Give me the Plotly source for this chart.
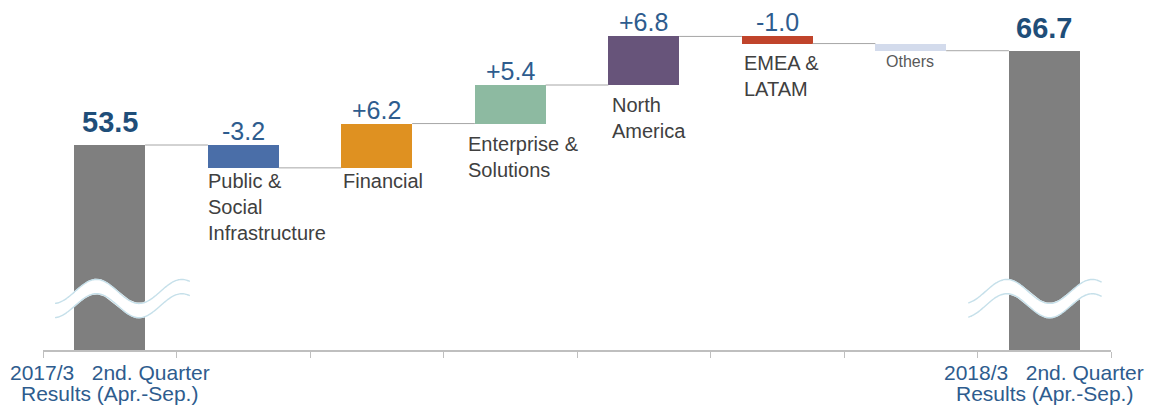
import numpy as np
import plotly.graph_objects as go

# ---- data -------------------------------------------------------------
segments = [
    "2017/3 2nd. Quarter Results (Apr.-Sep.)",
    "Public &<br>Social<br>Infrastructure",
    "Financial",
    "Enterprise &<br>Solutions",
    "North<br>America",
    "EMEA &<br>LATAM",
    "Others",
    "2018/3 2nd. Quarter Results (Apr.-Sep.)",
]
kinds = ["total", "delta", "delta", "delta", "delta", "delta", "delta", "total"]
values = [53.5, -3.2, 6.2, 5.4, 6.8, -1.0, -1.0, 66.7]
value_labels = ["53.5", "-3.2", "+6.2", "+5.4", "+6.8", "-1.0", "", "66.7"]
period_line1 = ["2017/3\u00a0\u00a0\u00a02nd. Quarter", "2018/3\u00a0\u00a0\u00a02nd. Quarter"]
period_line2 = ["Results (Apr.-Sep.)", "Results (Apr.-Sep.)"]

# ---- styles -----------------------------------------------------------
bar_colors = ["#7F7F7F", "#4A6EA8", "#DF9121", "#8DBAA1",
              "#67547A", "#C0442B", "#D3DBEC", "#7F7F7F"]
label_dx = [0, -2, 0, -9, 2, 0, 9, 0]
label_dy = [0, 0, 0, -7, -7, -6, 0, 0]
FONT = "Liberation Sans, Arial, sans-serif"
BLUE_TXT = "#2E5C8E"
BAR_W = 0.53
Y_MIN, Y_MAX = 24.8, 73.8

# ---- waterfall geometry ----------------------------------------------
xs = list(range(len(values)))
bases, heights, tops, bottoms = [], [], [], []
running = 0.0
for k, v in zip(kinds, values):
    if k == "total":
        base, h = 0.0, v
        running = v
    else:
        base, h = running, v
        running += v
    bases.append(base)
    heights.append(h)
    tops.append(max(base, base + h))
    bottoms.append(min(base, base + h))

levels = []
running = 0.0
for k, v in zip(kinds, values):
    running = v if k == "total" else running + v
    levels.append(running)

fig = go.Figure()

fig.add_trace(go.Bar(
    x=xs, y=heights, base=bases, width=BAR_W,
    marker=dict(color=bar_colors, line=dict(width=0)),
    hoverinfo="skip", showlegend=False,
))

# connector lines between neighbouring bars
cx, cy = [], []
for i in range(len(values) - 1):
    cx += [i + BAR_W / 2, i + 1 - BAR_W / 2, None]
    cy += [levels[i], levels[i], None]
fig.add_trace(go.Scatter(
    x=cx, y=cy, mode="lines", line=dict(color="#A6A6A6", width=1),
    hoverinfo="skip", showlegend=False,
))


# axis-break wave drawn across the two total bars
def add_break(center, x0, x1, peak, level=33.0, amp=1.68, period=0.64, gap=2.0):
    t = np.linspace(x0, x1, 120)
    upper = level + amp * np.cos(2 * np.pi * (t - peak) / period)
    lower = upper - gap
    px = center + t
    fig.add_trace(go.Scatter(
        x=np.concatenate([px, px[::-1]]),
        y=np.concatenate([upper + 0.1, (lower - 0.1)[::-1]]),
        fill="toself", fillcolor="white", mode="lines",
        line=dict(width=0, color="white"),
        hoverinfo="skip", showlegend=False,
    ))
    for edge in (upper, lower):
        fig.add_trace(go.Scatter(
            x=px, y=edge, mode="lines",
            line=dict(color="#C6E0EA", width=1.4, shape="spline"),
            hoverinfo="skip", showlegend=False,
        ))


add_break(0, -0.41, 0.60, -0.10)
add_break(7, -0.57, 0.43, -0.28)

annotations = []
for i, k in enumerate(kinds):
    if k == "total":
        annotations.append(dict(
            x=i, y=tops[i], xref="x", yref="y", text=f"<b>{value_labels[i]}</b>",
            showarrow=False, yanchor="bottom", yshift=5,
            font=dict(family=FONT, size=29, color="#1F4E79"),
        ))
    else:
        if value_labels[i]:
            annotations.append(dict(
                x=i, y=tops[i], xref="x", yref="y", text=value_labels[i],
                showarrow=False, yanchor="bottom", yshift=-2,
                font=dict(family=FONT, size=25, color=BLUE_TXT),
            ))
        small = segments[i] == "Others"
        annotations.append(dict(
            x=i - BAR_W / 2, y=bottoms[i], xref="x", yref="y",
            text=segments[i], showarrow=False, align="left",
            xanchor="left", yanchor="top",
            xshift=label_dx[i], yshift=label_dy[i],
            font=dict(family=FONT, size=16 if small else 20,
                      color="#595959" if small else "#404040"),
        ))

for j, i in enumerate([0, len(values) - 1]):
    annotations.append(dict(
        x=i, y=0, xref="x", yref="paper", text=period_line1[j],
        showarrow=False, yanchor="top", yshift=-9,
        font=dict(family=FONT, size=21, color=BLUE_TXT),
    ))
    annotations.append(dict(
        x=i, y=0, xref="x", yref="paper", text=period_line2[j],
        showarrow=False, yanchor="top", yshift=-30,
        font=dict(family=FONT, size=21, color=BLUE_TXT),
    ))

fig.update_layout(
    width=1155, height=409,
    margin=dict(l=43, r=44, t=0, b=59),
    paper_bgcolor="white", plot_bgcolor="white",
    bargap=0, showlegend=False,
    annotations=annotations,
    xaxis=dict(
        range=[-0.5, len(values) - 0.5],
        tickmode="array",
        tickvals=[k - 0.5 for k in range(len(values) + 1)],
        ticktext=[""] * (len(values) + 1),
        ticks="outside", ticklen=6, tickcolor="#BFBFBF", tickwidth=1,
        showline=True, linecolor="#BFBFBF", linewidth=2,
        showgrid=False, zeroline=False, fixedrange=True,
    ),
    yaxis=dict(range=[Y_MIN, Y_MAX], visible=False, showgrid=False,
               zeroline=False, fixedrange=True),
)

fig.write_html("out.html", config={"displayModeBar": False})
